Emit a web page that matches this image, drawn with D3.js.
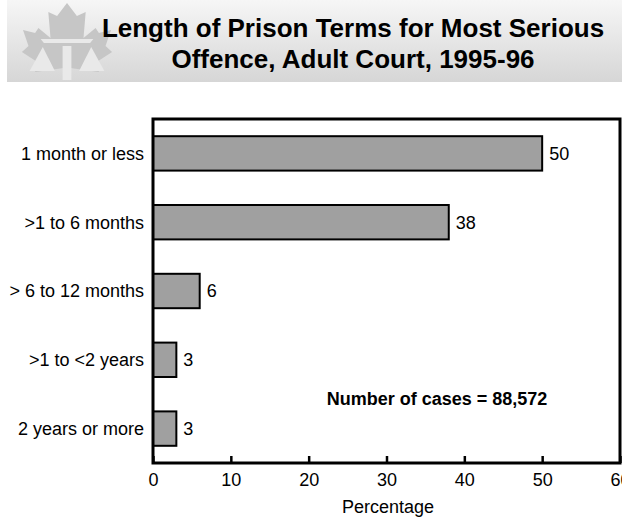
<!DOCTYPE html>
<html lang="en">
<head>
    <meta charset="UTF-8">
    <title>Length of Prison Terms for Most Serious Offence</title>
    <script src="https://d3js.org/d3.v7.min.js"></script>
    <style>
        body {
            margin: 0;
            background: white;
            font-family: "Liberation Sans", Arial, sans-serif;
        }
        .tick text {
            font-size: 18px;
            fill: black;
        }
    </style>
</head>
<body>
    <svg id="chart" width="622" height="521"></svg>
    <script>
        const categories = ["1 month or less", ">1 to 6 months", "> 6 to 12 months", ">1 to <2 years", "2 years or more"];
        const values = [50, 38, 6, 3, 3];
        const xTicks = [0, 10, 20, 30, 40, 50, 60];
        const titleLines = ["Length of Prison Terms for Most Serious", "Offence, Adult Court, 1995-96"];
        const noteText = "Number of cases = 88,572";

        const svg = d3.select("#chart");

        // header band
        const defs = svg.append("defs");
        const grad = defs.append("linearGradient")
            .attr("id", "head-grad")
            .attr("x1", "0%").attr("y1", "0%")
            .attr("x2", "0%").attr("y2", "100%");
        grad.append("stop").attr("offset", "0%").attr("stop-color", "#f6f6f6");
        grad.append("stop").attr("offset", "100%").attr("stop-color", "#d6d6d6");

        svg.append("rect")
            .attr("x", 7).attr("y", 0)
            .attr("width", 615).attr("height", 82)
            .attr("fill", "url(#head-grad)");

        // maple leaf logo with scales
        const logo = svg.append("g").attr("transform", "translate(67,0) scale(1.1,1)");
        logo.append("path")
            .attr("d", "M0,3 L9,16 L17,12 L15,38 L26,28 L29,33 L40,30 L35,46 L41,52 L27,62 L29,72 L3,68 L3,80 L-3,80 L-3,68 L-29,72 L-27,62 L-41,52 L-35,46 L-40,30 L-29,33 L-26,28 L-15,38 L-17,12 L-9,16 Z")
            .attr("fill", "#c6c6c6");
        logo.append("path").attr("d", "M-24,39 L24,39 L21,43 L-21,43 Z").attr("fill", "#e9e9e9");
        logo.append("rect").attr("x", -4).attr("y", 46).attr("width", 8).attr("height", 34).attr("fill", "#e9e9e9");
        logo.append("path").attr("d", "M-22,47 L-11,71 L-34,71 Z").attr("fill", "#e9e9e9");
        logo.append("path").attr("d", "M22,47 L34,71 L11,71 Z").attr("fill", "#e9e9e9");

        svg.append("g").selectAll("text")
            .data(titleLines)
            .enter().append("text")
            .attr("x", 353)
            .attr("y", (d, i) => 37 + i * 31)
            .attr("text-anchor", "middle")
            .attr("font-size", "26px")
            .attr("font-weight", "bold")
            .text(d => d);

        // plot
        const plotLeft = 153, plotRight = 620, plotTop = 119, plotBottom = 463;

        const x = d3.scaleLinear()
            .domain([0, 60])
            .range([plotLeft, plotRight]);

        const y = d3.scaleBand()
            .domain(categories)
            .range([plotTop, plotBottom])
            .paddingInner(0.5)
            .paddingOuter(0.25);

        svg.append("g")
            .selectAll("rect")
            .data(values)
            .enter().append("rect")
            .attr("x", x(0))
            .attr("y", (d, i) => y(categories[i]))
            .attr("width", d => x(d) - x(0))
            .attr("height", y.bandwidth())
            .attr("fill", "#a0a0a0")
            .attr("stroke", "black")
            .attr("stroke-width", 2);

        svg.append("g")
            .selectAll("text")
            .data(values)
            .enter().append("text")
            .attr("x", d => x(d) + 7)
            .attr("y", (d, i) => y(categories[i]) + y.bandwidth() / 2)
            .attr("dy", "0.35em")
            .attr("font-size", "18px")
            .text(d => d);

        const xAxis = svg.append("g")
            .attr("transform", `translate(0,${plotBottom})`)
            .call(d3.axisBottom(x).tickValues(xTicks).tickSize(-7).tickPadding(10));
        xAxis.select(".domain").remove();
        xAxis.selectAll("line").attr("stroke", "black").attr("stroke-width", 2.5);

        const yAxis = svg.append("g")
            .attr("transform", `translate(${plotLeft},0)`)
            .call(d3.axisLeft(y).tickSize(0).tickPadding(9));
        yAxis.select(".domain").remove();
        yAxis.selectAll(".tick text").attr("dy", "0.35em");

        svg.append("rect")
            .attr("x", plotLeft).attr("y", plotTop)
            .attr("width", plotRight - plotLeft).attr("height", plotBottom - plotTop)
            .attr("fill", "none")
            .attr("stroke", "black")
            .attr("stroke-width", 3);

        svg.append("text")
            .attr("x", 388)
            .attr("y", 513)
            .attr("text-anchor", "middle")
            .attr("font-size", "18px")
            .text("Percentage");

        svg.append("text")
            .attr("x", 437)
            .attr("y", 405)
            .attr("text-anchor", "middle")
            .attr("font-size", "18px")
            .attr("font-weight", "bold")
            .text(noteText);
    </script>
</body>
</html>
